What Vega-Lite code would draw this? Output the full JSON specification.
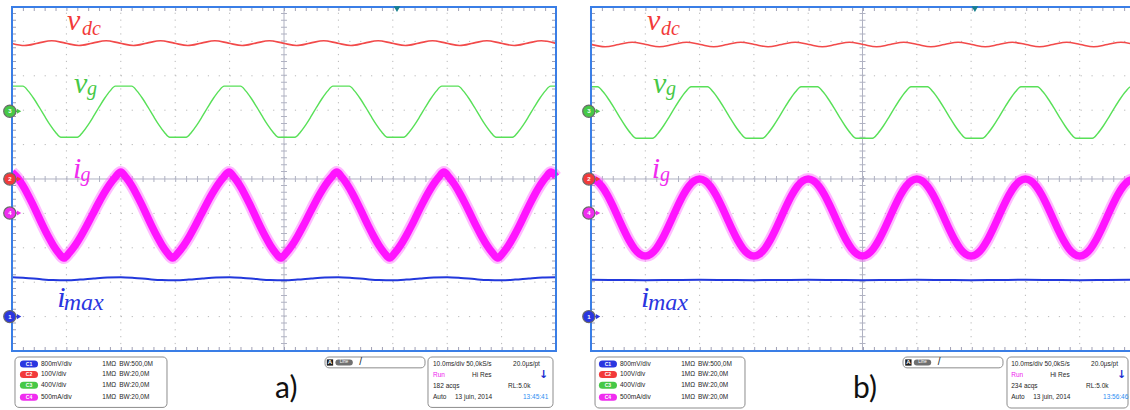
{
"$schema": "https://vega.github.io/schema/vega-lite/v6.json",
"padding": 0,
"background": "white",
"bounds": "flush",
"spacing": 0,
"config": {"view": {"stroke": null}, "axis": {"disable": true}},
"datasets": {
"one": [{"k": 1}],
"gx": [{"t":1},{"t":2},{"t":3},{"t":4},{"t":6},{"t":7},{"t":8},{"t":9}],
"gy": [{"v":-4},{"v":-3},{"v":-2},{"v":-1},{"v":1},{"v":2},{"v":3},{"v":4}],
"a_vdc": [{"t":0,"v":3.941},
{"t":0.23,"v":3.88},{"t":0.48,"v":3.95},{"t":0.73,"v":4.02},{"t":0.98,"v":3.95},
{"t":1.23,"v":3.88},{"t":1.48,"v":3.95},{"t":1.73,"v":4.02},{"t":1.98,"v":3.95},
{"t":2.23,"v":3.88},{"t":2.48,"v":3.95},{"t":2.73,"v":4.02},{"t":2.98,"v":3.95},
{"t":3.23,"v":3.88},{"t":3.48,"v":3.95},{"t":3.73,"v":4.02},{"t":3.98,"v":3.95},
{"t":4.23,"v":3.88},{"t":4.48,"v":3.95},{"t":4.73,"v":4.02},{"t":4.98,"v":3.95},
{"t":5.23,"v":3.88},{"t":5.48,"v":3.95},{"t":5.73,"v":4.02},{"t":5.98,"v":3.95},
{"t":6.23,"v":3.88},{"t":6.48,"v":3.95},{"t":6.73,"v":4.02},{"t":6.98,"v":3.95},
{"t":7.23,"v":3.88},{"t":7.48,"v":3.95},{"t":7.73,"v":4.02},{"t":7.98,"v":3.95},
{"t":8.23,"v":3.88},{"t":8.48,"v":3.95},{"t":8.73,"v":4.02},{"t":8.98,"v":3.95},
{"t":9.23,"v":3.88},{"t":9.48,"v":3.95},{"t":9.73,"v":4.02},{"t":9.98,"v":3.95},
{"t":10,"v":3.941}],
"b_vdc": [{"t":0,"v":3.914},
{"t":0.26,"v":3.845},{"t":0.51,"v":3.91},{"t":0.76,"v":3.975},{"t":1.01,"v":3.91},
{"t":1.26,"v":3.845},{"t":1.51,"v":3.91},{"t":1.76,"v":3.975},{"t":2.01,"v":3.91},
{"t":2.26,"v":3.845},{"t":2.51,"v":3.91},{"t":2.76,"v":3.975},{"t":3.01,"v":3.91},
{"t":3.26,"v":3.845},{"t":3.51,"v":3.91},{"t":3.76,"v":3.975},{"t":4.01,"v":3.91},
{"t":4.26,"v":3.845},{"t":4.51,"v":3.91},{"t":4.76,"v":3.975},{"t":5.01,"v":3.91},
{"t":5.26,"v":3.845},{"t":5.51,"v":3.91},{"t":5.76,"v":3.975},{"t":6.01,"v":3.91},
{"t":6.26,"v":3.845},{"t":6.51,"v":3.91},{"t":6.76,"v":3.975},{"t":7.01,"v":3.91},
{"t":7.26,"v":3.845},{"t":7.51,"v":3.91},{"t":7.76,"v":3.975},{"t":8.01,"v":3.91},
{"t":8.26,"v":3.845},{"t":8.51,"v":3.91},{"t":8.76,"v":3.975},{"t":9.01,"v":3.91},
{"t":9.26,"v":3.845},{"t":9.51,"v":3.91},{"t":9.76,"v":3.975},{"t":10,"v":3.914}],
"a_vg": [{"t":0,"v":2.7},
{"t":0.2,"v":2.7},{"t":0.3,"v":2.554},{"t":0.4,"v":2.34},{"t":0.5,"v":2.089},{"t":0.6,"v":1.825},{"t":0.7,"v":1.574},{"t":0.8,"v":1.36},{"t":0.9,"v":1.212},{"t":1.2,"v":1.212},{"t":1.3,"v":1.36},{"t":1.4,"v":1.574},{"t":1.5,"v":1.825},{"t":1.6,"v":2.089},{"t":1.7,"v":2.34},{"t":1.8,"v":2.554},{"t":1.9,"v":2.7},
{"t":2.2,"v":2.7},{"t":2.3,"v":2.554},{"t":2.4,"v":2.34},{"t":2.5,"v":2.089},{"t":2.6,"v":1.825},{"t":2.7,"v":1.574},{"t":2.8,"v":1.36},{"t":2.9,"v":1.212},{"t":3.2,"v":1.212},{"t":3.3,"v":1.36},{"t":3.4,"v":1.574},{"t":3.5,"v":1.825},{"t":3.6,"v":2.089},{"t":3.7,"v":2.34},{"t":3.8,"v":2.554},{"t":3.9,"v":2.7},
{"t":4.2,"v":2.7},{"t":4.3,"v":2.554},{"t":4.4,"v":2.34},{"t":4.5,"v":2.089},{"t":4.6,"v":1.825},{"t":4.7,"v":1.574},{"t":4.8,"v":1.36},{"t":4.9,"v":1.212},{"t":5.2,"v":1.212},{"t":5.3,"v":1.36},{"t":5.4,"v":1.574},{"t":5.5,"v":1.825},{"t":5.6,"v":2.089},{"t":5.7,"v":2.34},{"t":5.8,"v":2.554},{"t":5.9,"v":2.7},
{"t":6.2,"v":2.7},{"t":6.3,"v":2.554},{"t":6.4,"v":2.34},{"t":6.5,"v":2.089},{"t":6.6,"v":1.825},{"t":6.7,"v":1.574},{"t":6.8,"v":1.36},{"t":6.9,"v":1.212},{"t":7.2,"v":1.212},{"t":7.3,"v":1.36},{"t":7.4,"v":1.574},{"t":7.5,"v":1.825},{"t":7.6,"v":2.089},{"t":7.7,"v":2.34},{"t":7.8,"v":2.554},{"t":7.9,"v":2.7},
{"t":8.2,"v":2.7},{"t":8.3,"v":2.554},{"t":8.4,"v":2.34},{"t":8.5,"v":2.089},{"t":8.6,"v":1.825},{"t":8.7,"v":1.574},{"t":8.8,"v":1.36},{"t":8.9,"v":1.212},{"t":9.2,"v":1.212},{"t":9.3,"v":1.36},{"t":9.4,"v":1.574},{"t":9.5,"v":1.825},{"t":9.6,"v":2.089},{"t":9.7,"v":2.34},{"t":9.8,"v":2.554},{"t":9.9,"v":2.7},
{"t":10,"v":2.7}],
"b_vg": [{"t":0,"v":2.683},{"t":0.122,"v":2.683},{"t":0.223,"v":2.534},{"t":0.324,"v":2.318},{"t":0.426,"v":2.066},{"t":0.527,"v":1.8},{"t":0.628,"v":1.548},{"t":0.729,"v":1.332},{"t":0.831,"v":1.183},{"t":1.134,"v":1.183},{"t":1.236,"v":1.332},{"t":1.337,"v":1.548},{"t":1.438,"v":1.8},{"t":1.539,"v":2.066},{"t":1.641,"v":2.318},{"t":1.742,"v":2.534},{"t":1.843,"v":2.683},
{"t":2.147,"v":2.683},{"t":2.248,"v":2.534},{"t":2.349,"v":2.318},{"t":2.451,"v":2.066},{"t":2.552,"v":1.8},{"t":2.653,"v":1.548},{"t":2.754,"v":1.332},{"t":2.856,"v":1.183},{"t":3.159,"v":1.183},{"t":3.261,"v":1.332},{"t":3.362,"v":1.548},{"t":3.463,"v":1.8},{"t":3.564,"v":2.066},{"t":3.666,"v":2.318},{"t":3.767,"v":2.534},{"t":3.868,"v":2.683},
{"t":4.172,"v":2.683},{"t":4.273,"v":2.534},{"t":4.374,"v":2.318},{"t":4.476,"v":2.066},{"t":4.577,"v":1.8},{"t":4.678,"v":1.548},{"t":4.779,"v":1.332},{"t":4.881,"v":1.183},{"t":5.184,"v":1.183},{"t":5.286,"v":1.332},{"t":5.387,"v":1.548},{"t":5.488,"v":1.8},{"t":5.589,"v":2.066},{"t":5.691,"v":2.318},{"t":5.792,"v":2.534},{"t":5.893,"v":2.683},
{"t":6.197,"v":2.683},{"t":6.298,"v":2.534},{"t":6.399,"v":2.318},{"t":6.501,"v":2.066},{"t":6.602,"v":1.8},{"t":6.703,"v":1.548},{"t":6.804,"v":1.332},{"t":6.906,"v":1.183},{"t":7.209,"v":1.183},{"t":7.311,"v":1.332},{"t":7.412,"v":1.548},{"t":7.513,"v":1.8},{"t":7.614,"v":2.066},{"t":7.716,"v":2.318},{"t":7.817,"v":2.534},{"t":7.918,"v":2.683},
{"t":8.222,"v":2.683},{"t":8.323,"v":2.534},{"t":8.424,"v":2.318},{"t":8.526,"v":2.066},{"t":8.627,"v":1.8},{"t":8.728,"v":1.548},{"t":8.829,"v":1.332},{"t":8.931,"v":1.183},{"t":9.234,"v":1.183},{"t":9.336,"v":1.332},{"t":9.437,"v":1.548},{"t":9.538,"v":1.8},{"t":9.639,"v":2.066},{"t":9.741,"v":2.318},{"t":9.842,"v":2.534},{"t":9.943,"v":2.683},{"t":10,"v":2.683}],
"a_ig": [{"t":0,"v":0.2},{"t":0.095,"v":0.045},{"t":0.19,"v":-0.169},{"t":0.285,"v":-0.433},{"t":0.38,"v":-0.731},{"t":0.475,"v":-1.05},{"t":0.57,"v":-1.369},{"t":0.665,"v":-1.667},{"t":0.76,"v":-1.931},{"t":0.855,"v":-2.145},{"t":0.95,"v":-2.3},
{"t":1.055,"v":-2.145},{"t":1.16,"v":-1.931},{"t":1.265,"v":-1.667},{"t":1.37,"v":-1.369},{"t":1.475,"v":-1.05},{"t":1.58,"v":-0.731},{"t":1.685,"v":-0.433},{"t":1.79,"v":-0.169},{"t":1.895,"v":0.045},{"t":2.0,"v":0.2},
{"t":2.095,"v":0.045},{"t":2.19,"v":-0.169},{"t":2.285,"v":-0.433},{"t":2.38,"v":-0.731},{"t":2.475,"v":-1.05},{"t":2.57,"v":-1.369},{"t":2.665,"v":-1.667},{"t":2.76,"v":-1.931},{"t":2.855,"v":-2.145},{"t":2.95,"v":-2.3},
{"t":3.054,"v":-2.145},{"t":3.158,"v":-1.931},{"t":3.262,"v":-1.667},{"t":3.366,"v":-1.369},{"t":3.47,"v":-1.05},{"t":3.574,"v":-0.731},{"t":3.678,"v":-0.433},{"t":3.782,"v":-0.169},{"t":3.886,"v":0.045},{"t":3.99,"v":0.2},
{"t":4.085,"v":0.045},{"t":4.18,"v":-0.169},{"t":4.275,"v":-0.433},{"t":4.37,"v":-0.731},{"t":4.465,"v":-1.05},{"t":4.56,"v":-1.369},{"t":4.655,"v":-1.667},{"t":4.75,"v":-1.931},{"t":4.845,"v":-2.145},{"t":4.94,"v":-2.3},
{"t":5.043,"v":-2.145},{"t":5.146,"v":-1.931},{"t":5.249,"v":-1.667},{"t":5.352,"v":-1.369},{"t":5.455,"v":-1.05},{"t":5.558,"v":-0.731},{"t":5.661,"v":-0.433},{"t":5.764,"v":-0.169},{"t":5.867,"v":0.045},{"t":5.97,"v":0.2},
{"t":6.067,"v":0.045},{"t":6.164,"v":-0.169},{"t":6.261,"v":-0.433},{"t":6.358,"v":-0.731},{"t":6.455,"v":-1.05},{"t":6.552,"v":-1.369},{"t":6.649,"v":-1.667},{"t":6.746,"v":-1.931},{"t":6.843,"v":-2.145},{"t":6.94,"v":-2.3},
{"t":7.04,"v":-2.145},{"t":7.14,"v":-1.931},{"t":7.24,"v":-1.667},{"t":7.34,"v":-1.369},{"t":7.44,"v":-1.05},{"t":7.54,"v":-0.731},{"t":7.64,"v":-0.433},{"t":7.74,"v":-0.169},{"t":7.84,"v":0.045},{"t":7.94,"v":0.2},
{"t":8.039,"v":0.045},{"t":8.138,"v":-0.169},{"t":8.237,"v":-0.433},{"t":8.336,"v":-0.731},{"t":8.435,"v":-1.05},{"t":8.534,"v":-1.369},{"t":8.633,"v":-1.667},{"t":8.732,"v":-1.931},{"t":8.831,"v":-2.145},{"t":8.93,"v":-2.3},
{"t":9.028,"v":-2.145},{"t":9.126,"v":-1.931},{"t":9.224,"v":-1.667},{"t":9.322,"v":-1.369},{"t":9.42,"v":-1.05},{"t":9.518,"v":-0.731},{"t":9.616,"v":-0.433},{"t":9.714,"v":-0.169},{"t":9.812,"v":0.045},{"t":9.91,"v":0.2},
{"t":10,"v":0.07}],
"b_ig": [{"t":0,"v":0},{"t":0.1,"v":-0.055},{"t":0.2,"v":-0.214},{"t":0.3,"v":-0.461},{"t":0.4,"v":-0.774},{"t":0.5,"v":-1.12},{"t":0.6,"v":-1.466},{"t":0.7,"v":-1.779},{"t":0.8,"v":-2.026},{"t":0.9,"v":-2.185},{"t":1.0,"v":-2.24},{"t":1.1,"v":-2.185},{"t":1.2,"v":-2.026},{"t":1.3,"v":-1.779},{"t":1.4,"v":-1.466},{"t":1.5,"v":-1.12},{"t":1.6,"v":-0.774},{"t":1.7,"v":-0.461},{"t":1.8,"v":-0.214},{"t":1.9,"v":-0.055},
{"t":2.0,"v":0},{"t":2.1,"v":-0.055},{"t":2.2,"v":-0.214},{"t":2.3,"v":-0.461},{"t":2.4,"v":-0.774},{"t":2.5,"v":-1.12},{"t":2.6,"v":-1.466},{"t":2.7,"v":-1.779},{"t":2.8,"v":-2.026},{"t":2.9,"v":-2.185},{"t":3.0,"v":-2.24},{"t":3.1,"v":-2.185},{"t":3.2,"v":-2.026},{"t":3.3,"v":-1.779},{"t":3.4,"v":-1.466},{"t":3.5,"v":-1.12},{"t":3.6,"v":-0.774},{"t":3.7,"v":-0.461},{"t":3.8,"v":-0.214},{"t":3.9,"v":-0.055},
{"t":4.0,"v":0},{"t":4.1,"v":-0.055},{"t":4.2,"v":-0.214},{"t":4.3,"v":-0.461},{"t":4.4,"v":-0.774},{"t":4.5,"v":-1.12},{"t":4.6,"v":-1.466},{"t":4.7,"v":-1.779},{"t":4.8,"v":-2.026},{"t":4.9,"v":-2.185},{"t":5.0,"v":-2.24},{"t":5.1,"v":-2.185},{"t":5.2,"v":-2.026},{"t":5.3,"v":-1.779},{"t":5.4,"v":-1.466},{"t":5.5,"v":-1.12},{"t":5.6,"v":-0.774},{"t":5.7,"v":-0.461},{"t":5.8,"v":-0.214},{"t":5.9,"v":-0.055},
{"t":6.0,"v":0},{"t":6.1,"v":-0.055},{"t":6.2,"v":-0.214},{"t":6.3,"v":-0.461},{"t":6.4,"v":-0.774},{"t":6.5,"v":-1.12},{"t":6.6,"v":-1.466},{"t":6.7,"v":-1.779},{"t":6.8,"v":-2.026},{"t":6.9,"v":-2.185},{"t":7.0,"v":-2.24},{"t":7.1,"v":-2.185},{"t":7.2,"v":-2.026},{"t":7.3,"v":-1.779},{"t":7.4,"v":-1.466},{"t":7.5,"v":-1.12},{"t":7.6,"v":-0.774},{"t":7.7,"v":-0.461},{"t":7.8,"v":-0.214},{"t":7.9,"v":-0.055},
{"t":8.0,"v":0},{"t":8.1,"v":-0.055},{"t":8.2,"v":-0.214},{"t":8.3,"v":-0.461},{"t":8.4,"v":-0.774},{"t":8.5,"v":-1.12},{"t":8.6,"v":-1.466},{"t":8.7,"v":-1.779},{"t":8.8,"v":-2.026},{"t":8.9,"v":-2.185},{"t":9.0,"v":-2.24},{"t":9.1,"v":-2.185},{"t":9.2,"v":-2.026},{"t":9.3,"v":-1.779},{"t":9.4,"v":-1.466},{"t":9.5,"v":-1.12},{"t":9.6,"v":-0.774},{"t":9.7,"v":-0.461},{"t":9.8,"v":-0.214},{"t":9.9,"v":-0.055},
{"t":10.0,"v":0}],
"a_imax": [{"t":0,"v":-2.856},{"t":0.25,"v":-2.876},{"t":0.5,"v":-2.91},{"t":0.75,"v":-2.938},{"t":1,"v":-2.944},{"t":1.25,"v":-2.924},{"t":1.5,"v":-2.89},{"t":1.75,"v":-2.862},
{"t":2,"v":-2.856},{"t":2.25,"v":-2.876},{"t":2.5,"v":-2.91},{"t":2.75,"v":-2.938},{"t":3,"v":-2.944},{"t":3.25,"v":-2.924},{"t":3.5,"v":-2.89},{"t":3.75,"v":-2.862},
{"t":4,"v":-2.856},{"t":4.25,"v":-2.876},{"t":4.5,"v":-2.91},{"t":4.75,"v":-2.938},{"t":5,"v":-2.944},{"t":5.25,"v":-2.924},{"t":5.5,"v":-2.89},{"t":5.75,"v":-2.862},
{"t":6,"v":-2.856},{"t":6.25,"v":-2.876},{"t":6.5,"v":-2.91},{"t":6.75,"v":-2.938},{"t":7,"v":-2.944},{"t":7.25,"v":-2.924},{"t":7.5,"v":-2.89},{"t":7.75,"v":-2.862},
{"t":8,"v":-2.856},{"t":8.25,"v":-2.876},{"t":8.5,"v":-2.91},{"t":8.75,"v":-2.938},{"t":9,"v":-2.944},{"t":9.25,"v":-2.924},{"t":9.5,"v":-2.89},{"t":9.75,"v":-2.862},
{"t":10,"v":-2.856}],
"b_imax": [{"t":0,"v":-2.93},{"t":0.5,"v":-2.935},{"t":1,"v":-2.94},{"t":1.5,"v":-2.935},{"t":2,"v":-2.93},{"t":2.5,"v":-2.935},{"t":3,"v":-2.94},{"t":3.5,"v":-2.935},{"t":4,"v":-2.93},{"t":4.5,"v":-2.935},{"t":5,"v":-2.94},{"t":5.5,"v":-2.935},{"t":6,"v":-2.93},{"t":6.5,"v":-2.935},{"t":7,"v":-2.94},{"t":7.5,"v":-2.935},{"t":8,"v":-2.93},{"t":8.5,"v":-2.935},{"t":9,"v":-2.94},{"t":9.5,"v":-2.935},{"t":10,"v":-2.93}],
"a_lab": [{"k":"main","ch":"vdc","s":"v","t":1.01,"v":4.331},{"k":"sub","ch":"vdc","s":"dc","t":1.287,"v":4.186},{"k":"main","ch":"vg","s":"v","t":1.14,"v":2.5},{"k":"sub","ch":"vg","s":"g","t":1.38,"v":2.45},{"k":"main","ch":"ig","s":"i","t":1.12,"v":0.03},{"k":"sub","ch":"ig","s":"g","t":1.26,"v":-0.06},{"k":"main","ch":"imax","s":"i","t":0.83,"v":-3.72},{"k":"subL","ch":"imax","s":"max","t":0.95,"v":-3.81}],
"b_lab": [{"k":"main","ch":"vdc","s":"v","t":1.03,"v":4.331},{"k":"sub","ch":"vdc","s":"dc","t":1.29,"v":4.186},{"k":"main","ch":"vg","s":"v","t":1.14,"v":2.5},{"k":"sub","ch":"vg","s":"g","t":1.38,"v":2.45},{"k":"main","ch":"ig","s":"i","t":1.12,"v":0.03},{"k":"sub","ch":"ig","s":"g","t":1.27,"v":-0.06},{"k":"main","ch":"imax","s":"i","t":0.92,"v":-3.72},{"k":"subL","ch":"imax","s":"max","t":1.05,"v":-3.81}],
"markers": [{"ch":"vg","s":"3","v":1.97},{"ch":"vdc","s":"2","v":0},{"ch":"ig","s":"4","v":-0.99},{"ch":"imax","s":"1","v":-4.0}],
"pills": [{"ch":"imax","s":"C1","v":-5.378},{"ch":"vdc","s":"C2","v":-5.683},{"ch":"vg","s":"C3","v":-5.997},{"ch":"ig","s":"C4","v":-6.346}],
"a_boxes": [{"t":0.055,"t2":2.849,"v":-5.174,"v2":-6.64},{"t":5.754,"t2":7.592,"v":-5.174,"v2":-5.49},{"t":7.647,"t2":9.945,"v":-5.174,"v2":-6.64}],
"b_boxes": [{"t":0.074,"t2":2.836,"v":-5.174,"v2":-6.657},{"t":5.746,"t2":7.587,"v":-5.174,"v2":-5.49},{"t":7.661,"t2":9.89,"v":-5.174,"v2":-6.657}],
"info": [{"t":0.533,"v":-5.378,"s":"800mV/div"},{"t":1.66,"v":-5.378,"s":"1MΩ"},{"t":1.97,"v":-5.378,"s":"BW:500,0M"},
{"t":0.533,"v":-5.683,"s":"100V/div"},{"t":1.66,"v":-5.683,"s":"1MΩ"},{"t":1.97,"v":-5.683,"s":"BW:20,0M"},
{"t":0.533,"v":-5.997,"s":"400V/div"},{"t":1.66,"v":-5.997,"s":"1MΩ"},{"t":1.97,"v":-5.997,"s":"BW:20,0M"},
{"t":0.533,"v":-6.346,"s":"500mA/div"},{"t":1.66,"v":-6.346,"s":"1MΩ"},{"t":1.97,"v":-6.346,"s":"BW:20,0M"},
{"t":7.739,"v":-5.378,"s":"10.0ms/div 50,0kS/s"},{"t":9.21,"v":-5.378,"s":"20.0µs/pt"},
{"t":8.456,"v":-5.69,"s":"Hi Res"},{"t":9.118,"v":-6.01,"s":"RL:5.0k"},
{"t":7.739,"v":-6.346,"s":"Auto"},{"t":8.143,"v":-6.346,"s":"13 juin, 2014"}],
"a_info": [{"k":"run","s":"Run","t":7.739,"v":-5.69},{"k":"dark","s":"182 acqs","t":7.739,"v":-6.01},{"k":"time","s":"13:45:41","t":9.393,"v":-6.346}],
"b_info": [{"k":"run","s":"Run","t":7.739,"v":-5.69},{"k":"dark","s":"234 acqs","t":7.739,"v":-6.01},{"k":"time","s":"13:56:46","t":9.43,"v":-6.346}]
},
"hconcat": [
{
"width": 570, "height": 410,
"layer": [
{"data":{"name":"gx"},"mark":{"type":"rule","color":"#b8b8b8","strokeWidth":1,"strokeDash":[1.2,5.68],"clip":true},"encoding":{"x":{"field":"t","type":"quantitative","scale":{"domain":[-0.22059,10.25735],"nice":false,"zero":false},"axis":null},"y":{"datum":-5,"scale":{"domain":[-6.71512,5.20349],"nice":false,"zero":false},"axis":null},"y2":{"datum":5}}},
{"data":{"name":"gy"},"mark":{"type":"rule","color":"#b8b8b8","strokeWidth":1,"strokeDash":[1.2,9.68],"clip":true},"encoding":{"y":{"field":"v","type":"quantitative"},"x":{"datum":0},"x2":{"datum":10}}},
{"data":{"name":"one"},"mark":{"type":"rule","color":"#b0b2c2","strokeWidth":1,"clip":true},"encoding":{"x":{"datum":5},"y":{"datum":-5},"y2":{"datum":5}}},
{"data":{"name":"one"},"mark":{"type":"rule","color":"#b0b2c2","strokeWidth":1,"clip":true},"encoding":{"y":{"datum":0},"x":{"datum":0},"x2":{"datum":10}}},
{"data":{"name":"one"},"mark":{"type":"rule","color":"#b0b2c2","strokeWidth":6,"strokeDash":[1,5.88],"clip":true},"encoding":{"x":{"datum":5},"y":{"datum":-5},"y2":{"datum":5}}},
{"data":{"name":"one"},"mark":{"type":"rule","color":"#b0b2c2","strokeWidth":6,"strokeDash":[1,9.88],"clip":true},"encoding":{"y":{"datum":0},"x":{"datum":0},"x2":{"datum":10}}},
{"data":{"name":"one"},"mark":{"type":"rule","color":"#a0a0b4","strokeWidth":4,"xOffset":2,"strokeDash":[1,5.88]},"encoding":{"x":{"datum":0},"y":{"datum":-5},"y2":{"datum":5}}},
{"data":{"name":"one"},"mark":{"type":"rule","color":"#a0a0b4","strokeWidth":4,"xOffset":-2,"strokeDash":[1,5.88]},"encoding":{"x":{"datum":10},"y":{"datum":-5},"y2":{"datum":5}}},
{"data":{"name":"one"},"mark":{"type":"rule","color":"#a0a0b4","strokeWidth":4,"yOffset":2,"strokeDash":[1,9.88]},"encoding":{"y":{"datum":5},"x":{"datum":0},"x2":{"datum":10}}},
{"data":{"name":"one"},"mark":{"type":"rule","color":"#a0a0b4","strokeWidth":4,"yOffset":-2,"strokeDash":[1,9.88]},"encoding":{"y":{"datum":-5},"x":{"datum":0},"x2":{"datum":10}}},
{"data":{"name":"a_vdc"},"mark":{"type":"line","color":"#f24a4a","strokeWidth":1.6,"interpolate":"monotone","clip":true},"encoding":{"x":{"field":"t","type":"quantitative"},"y":{"field":"v","type":"quantitative"}}},
{"data":{"name":"a_vg"},"mark":{"type":"line","color":"#58e058","strokeWidth":1.4,"interpolate":"monotone","clip":true},"encoding":{"x":{"field":"t","type":"quantitative"},"y":{"field":"v","type":"quantitative"}}},
{"data":{"name":"a_ig"},"mark":{"type":"line","color":"#ff66ff","strokeWidth":12,"opacity":0.45,"interpolate":"monotone","strokeJoin":"round","clip":true},"encoding":{"x":{"field":"t","type":"quantitative"},"y":{"field":"v","type":"quantitative"}}},
{"data":{"name":"a_ig"},"mark":{"type":"line","color":"#ff14ff","strokeWidth":7.5,"interpolate":"monotone","strokeJoin":"round","clip":true},"encoding":{"x":{"field":"t","type":"quantitative"},"y":{"field":"v","type":"quantitative"}}},
{"data":{"name":"a_imax"},"mark":{"type":"line","color":"#2238dc","strokeWidth":2,"interpolate":"monotone","clip":true},"encoding":{"x":{"field":"t","type":"quantitative"},"y":{"field":"v","type":"quantitative"}}},
{"data":{"name":"a_lab"},"transform":[{"filter":"datum.k === 'main'"}],"mark":{"type":"text","font":"Liberation Serif","fontStyle":"italic","fontSize":30,"align":"left","baseline":"alphabetic"},"encoding":{"x":{"field":"t","type":"quantitative"},"y":{"field":"v","type":"quantitative"},"text":{"field":"s"},"color":{"field":"ch","type":"nominal","scale":{"domain":["vdc","vg","ig","imax"],"range":["#f23a3a","#46c846","#f02cf0","#2a36e0"]},"legend":null}}},
{"data":{"name":"a_lab"},"transform":[{"filter":"datum.k === 'sub'"}],"mark":{"type":"text","font":"Liberation Serif","fontStyle":"italic","fontSize":20,"align":"left","baseline":"alphabetic"},"encoding":{"x":{"field":"t","type":"quantitative"},"y":{"field":"v","type":"quantitative"},"text":{"field":"s"},"color":{"field":"ch","type":"nominal","legend":null}}},
{"data":{"name":"a_lab"},"transform":[{"filter":"datum.k === 'subL'"}],"mark":{"type":"text","font":"Liberation Serif","fontStyle":"italic","fontSize":24,"align":"left","baseline":"alphabetic"},"encoding":{"x":{"field":"t","type":"quantitative"},"y":{"field":"v","type":"quantitative"},"text":{"field":"s"},"color":{"field":"ch","type":"nominal","legend":null}}},
{"data":{"name":"one"},"mark":{"type":"rect","fill":"transparent","stroke":"#3a7ee6","strokeWidth":2,"clip":true},"encoding":{"x":{"datum":0},"x2":{"datum":10},"y":{"datum":-5},"y2":{"datum":5}}},
{"data":{"name":"one"},"mark":{"type":"point","shape":"triangle-down","filled":true,"size":45,"color":"#16808e","opacity":1},"encoding":{"x":{"datum":7.077},"y":{"datum":4.94}}},
{"data":{"name":"markers"},"mark":{"type":"rule","strokeWidth":1.5},"encoding":{"x":{"datum":-0.04},"x2":{"datum":0.12},"y":{"field":"v","type":"quantitative"},"color":{"field":"ch","type":"nominal","legend":null}}},
{"data":{"name":"markers"},"mark":{"type":"point","shape":"triangle-right","filled":true,"size":26,"opacity":1},"encoding":{"x":{"datum":0.13},"y":{"field":"v","type":"quantitative"},"color":{"field":"ch","type":"nominal","legend":null}}},
{"data":{"name":"markers"},"mark":{"type":"point","shape":"circle","filled":true,"size":150,"opacity":1,"stroke":"#6a6a6a","strokeWidth":1.2},"encoding":{"x":{"datum":-0.04},"y":{"field":"v","type":"quantitative"},"color":{"field":"ch","type":"nominal","legend":null}}},
{"data":{"name":"markers"},"mark":{"type":"text","fontSize":6,"fontWeight":"bold","color":"white","font":"Liberation Sans"},"encoding":{"x":{"datum":-0.04},"y":{"field":"v","type":"quantitative"},"text":{"field":"s"}}},
{"data":{"name":"a_boxes"},"mark":{"type":"rect","fill":"white","stroke":"#8c8c8c","strokeWidth":1,"cornerRadius":4,"clip":true},"encoding":{"x":{"field":"t","type":"quantitative"},"x2":{"field":"t2"},"y":{"field":"v","type":"quantitative"},"y2":{"field":"v2"}}},
{"data":{"name":"pills"},"mark":{"type":"rule","strokeWidth":7,"strokeCap":"round"},"encoding":{"x":{"datum":0.21},"x2":{"datum":0.414},"y":{"field":"v","type":"quantitative"},"color":{"field":"ch","type":"nominal","legend":null}}},
{"data":{"name":"pills"},"mark":{"type":"text","fontSize":5,"fontWeight":"bold","color":"white","font":"Liberation Sans"},"encoding":{"x":{"datum":0.312},"y":{"field":"v","type":"quantitative"},"text":{"field":"s"}}},
{"data":{"name":"one"},"mark":{"type":"point","shape":"square","filled":true,"size":40,"color":"#202020","opacity":1},"encoding":{"x":{"datum":5.845},"y":{"datum":-5.334}}},
{"data":{"name":"one"},"mark":{"type":"text","text":"A","fontSize":6,"fontWeight":"bold","color":"white","font":"Liberation Sans"},"encoding":{"x":{"datum":5.845},"y":{"datum":-5.334}}},
{"data":{"name":"one"},"mark":{"type":"rule","strokeWidth":6,"strokeCap":"round","color":"#707070"},"encoding":{"x":{"datum":6.0},"x2":{"datum":6.21},"y":{"datum":-5.334}}},
{"data":{"name":"one"},"mark":{"type":"text","text":"Line","fontSize":4.5,"color":"white","font":"Liberation Sans"},"encoding":{"x":{"datum":6.105},"y":{"datum":-5.334}}},
{"data":{"name":"one"},"mark":{"type":"text","text":"/","fontSize":10,"color":"#222222","font":"Liberation Sans"},"encoding":{"x":{"datum":6.41},"y":{"datum":-5.334}}},
{"data":{"name":"info"},"mark":{"type":"text","font":"Liberation Sans","fontSize":6.5,"color":"#262626","align":"left","baseline":"middle"},"encoding":{"x":{"field":"t","type":"quantitative"},"y":{"field":"v","type":"quantitative"},"text":{"field":"s"}}},
{"data":{"name":"a_info"},"transform":[{"filter":"datum.k === 'dark'"}],"mark":{"type":"text","font":"Liberation Sans","fontSize":6.5,"color":"#262626","align":"left","baseline":"middle"},"encoding":{"x":{"field":"t","type":"quantitative"},"y":{"field":"v","type":"quantitative"},"text":{"field":"s"}}},
{"data":{"name":"a_info"},"transform":[{"filter":"datum.k === 'run'"}],"mark":{"type":"text","font":"Liberation Sans","fontSize":6.5,"color":"#ee22ee","align":"left","baseline":"middle"},"encoding":{"x":{"field":"t","type":"quantitative"},"y":{"field":"v","type":"quantitative"},"text":{"field":"s"}}},
{"data":{"name":"a_info"},"transform":[{"filter":"datum.k === 'time'"}],"mark":{"type":"text","font":"Liberation Sans","fontSize":6.5,"color":"#2b8ef2","align":"left","baseline":"middle"},"encoding":{"x":{"field":"t","type":"quantitative"},"y":{"field":"v","type":"quantitative"},"text":{"field":"s"}}},
{"data":{"name":"one"},"mark":{"type":"text","text":"↓","font":"DejaVu Sans","fontSize":11,"fontWeight":"bold","color":"#1c2fd0"},"encoding":{"x":{"datum":9.77},"y":{"datum":-5.69}}},
{"data":{"name":"one"},"mark":{"type":"text","text":"a)","font":"Lato","fontSize":30,"color":"#111111","align":"left","baseline":"alphabetic"},"encoding":{"x":{"datum":4.835},"y":{"datum":-6.37}}}
]
},
{
"width": 560, "height": 410,
"layer": [
{"data":{"name":"gx"},"mark":{"type":"rule","color":"#b8b8b8","strokeWidth":1,"strokeDash":[1.2,5.68],"clip":true},"encoding":{"x":{"field":"t","type":"quantitative","scale":{"domain":[-0.38674,9.92634],"nice":false,"zero":false},"axis":null},"y":{"datum":-5,"scale":{"domain":[-6.71512,5.20349],"nice":false,"zero":false},"axis":null},"y2":{"datum":5}}},
{"data":{"name":"gy"},"mark":{"type":"rule","color":"#b8b8b8","strokeWidth":1,"strokeDash":[1.2,9.68],"clip":true},"encoding":{"y":{"field":"v","type":"quantitative"},"x":{"datum":0},"x2":{"datum":10}}},
{"data":{"name":"one"},"mark":{"type":"rule","color":"#b0b2c2","strokeWidth":1,"clip":true},"encoding":{"x":{"datum":5},"y":{"datum":-5},"y2":{"datum":5}}},
{"data":{"name":"one"},"mark":{"type":"rule","color":"#b0b2c2","strokeWidth":1,"clip":true},"encoding":{"y":{"datum":0},"x":{"datum":0},"x2":{"datum":10}}},
{"data":{"name":"one"},"mark":{"type":"rule","color":"#b0b2c2","strokeWidth":6,"strokeDash":[1,5.88],"clip":true},"encoding":{"x":{"datum":5},"y":{"datum":-5},"y2":{"datum":5}}},
{"data":{"name":"one"},"mark":{"type":"rule","color":"#b0b2c2","strokeWidth":6,"strokeDash":[1,9.88],"clip":true},"encoding":{"y":{"datum":0},"x":{"datum":0},"x2":{"datum":10}}},
{"data":{"name":"one"},"mark":{"type":"rule","color":"#a0a0b4","strokeWidth":4,"xOffset":2,"strokeDash":[1,5.88],"clip":true},"encoding":{"x":{"datum":0},"y":{"datum":-5},"y2":{"datum":5}}},
{"data":{"name":"one"},"mark":{"type":"rule","color":"#a0a0b4","strokeWidth":4,"yOffset":2,"strokeDash":[1,9.88],"clip":true},"encoding":{"y":{"datum":5},"x":{"datum":0},"x2":{"datum":10}}},
{"data":{"name":"one"},"mark":{"type":"rule","color":"#a0a0b4","strokeWidth":4,"yOffset":-2,"strokeDash":[1,9.88],"clip":true},"encoding":{"y":{"datum":-5},"x":{"datum":0},"x2":{"datum":10}}},
{"data":{"name":"b_vdc"},"mark":{"type":"line","color":"#f24a4a","strokeWidth":1.6,"interpolate":"monotone","clip":true},"encoding":{"x":{"field":"t","type":"quantitative"},"y":{"field":"v","type":"quantitative"}}},
{"data":{"name":"b_vg"},"mark":{"type":"line","color":"#58e058","strokeWidth":1.4,"interpolate":"monotone","clip":true},"encoding":{"x":{"field":"t","type":"quantitative"},"y":{"field":"v","type":"quantitative"}}},
{"data":{"name":"b_ig"},"mark":{"type":"line","color":"#ff66ff","strokeWidth":12,"opacity":0.45,"interpolate":"monotone","strokeJoin":"round","clip":true},"encoding":{"x":{"field":"t","type":"quantitative"},"y":{"field":"v","type":"quantitative"}}},
{"data":{"name":"b_ig"},"mark":{"type":"line","color":"#ff14ff","strokeWidth":7.5,"interpolate":"monotone","strokeJoin":"round","clip":true},"encoding":{"x":{"field":"t","type":"quantitative"},"y":{"field":"v","type":"quantitative"}}},
{"data":{"name":"b_imax"},"mark":{"type":"line","color":"#2238dc","strokeWidth":2,"interpolate":"monotone","clip":true},"encoding":{"x":{"field":"t","type":"quantitative"},"y":{"field":"v","type":"quantitative"}}},
{"data":{"name":"b_lab"},"transform":[{"filter":"datum.k === 'main'"}],"mark":{"type":"text","font":"Liberation Serif","fontStyle":"italic","fontSize":30,"align":"left","baseline":"alphabetic"},"encoding":{"x":{"field":"t","type":"quantitative"},"y":{"field":"v","type":"quantitative"},"text":{"field":"s"},"color":{"field":"ch","type":"nominal","scale":{"domain":["vdc","vg","ig","imax"],"range":["#f23a3a","#46c846","#f02cf0","#2a36e0"]},"legend":null}}},
{"data":{"name":"b_lab"},"transform":[{"filter":"datum.k === 'sub'"}],"mark":{"type":"text","font":"Liberation Serif","fontStyle":"italic","fontSize":20,"align":"left","baseline":"alphabetic"},"encoding":{"x":{"field":"t","type":"quantitative"},"y":{"field":"v","type":"quantitative"},"text":{"field":"s"},"color":{"field":"ch","type":"nominal","legend":null}}},
{"data":{"name":"b_lab"},"transform":[{"filter":"datum.k === 'subL'"}],"mark":{"type":"text","font":"Liberation Serif","fontStyle":"italic","fontSize":24,"align":"left","baseline":"alphabetic"},"encoding":{"x":{"field":"t","type":"quantitative"},"y":{"field":"v","type":"quantitative"},"text":{"field":"s"},"color":{"field":"ch","type":"nominal","legend":null}}},
{"data":{"name":"one"},"mark":{"type":"rect","fill":"transparent","stroke":"#3a7ee6","strokeWidth":2,"clip":true},"encoding":{"x":{"datum":0},"x2":{"datum":10},"y":{"datum":-5},"y2":{"datum":5}}},
{"data":{"name":"one"},"mark":{"type":"point","shape":"triangle-down","filled":true,"size":45,"color":"#16808e","opacity":1},"encoding":{"x":{"datum":7.07},"y":{"datum":4.94}}},
{"data":{"name":"markers"},"mark":{"type":"rule","strokeWidth":1.5},"encoding":{"x":{"datum":-0.04},"x2":{"datum":0.12},"y":{"field":"v","type":"quantitative"},"color":{"field":"ch","type":"nominal","legend":null}}},
{"data":{"name":"markers"},"mark":{"type":"point","shape":"triangle-right","filled":true,"size":26,"opacity":1},"encoding":{"x":{"datum":0.13},"y":{"field":"v","type":"quantitative"},"color":{"field":"ch","type":"nominal","legend":null}}},
{"data":{"name":"markers"},"mark":{"type":"point","shape":"circle","filled":true,"size":150,"opacity":1,"stroke":"#6a6a6a","strokeWidth":1.2},"encoding":{"x":{"datum":-0.04},"y":{"field":"v","type":"quantitative"},"color":{"field":"ch","type":"nominal","legend":null}}},
{"data":{"name":"markers"},"mark":{"type":"text","fontSize":6,"fontWeight":"bold","color":"white","font":"Liberation Sans"},"encoding":{"x":{"datum":-0.04},"y":{"field":"v","type":"quantitative"},"text":{"field":"s"}}},
{"data":{"name":"b_boxes"},"mark":{"type":"rect","fill":"white","stroke":"#8c8c8c","strokeWidth":1,"cornerRadius":4,"clip":true},"encoding":{"x":{"field":"t","type":"quantitative"},"x2":{"field":"t2"},"y":{"field":"v","type":"quantitative"},"y2":{"field":"v2"}}},
{"data":{"name":"pills"},"mark":{"type":"rule","strokeWidth":7,"strokeCap":"round"},"encoding":{"x":{"datum":0.21},"x2":{"datum":0.414},"y":{"field":"v","type":"quantitative"},"color":{"field":"ch","type":"nominal","legend":null}}},
{"data":{"name":"pills"},"mark":{"type":"text","fontSize":5,"fontWeight":"bold","color":"white","font":"Liberation Sans"},"encoding":{"x":{"datum":0.312},"y":{"field":"v","type":"quantitative"},"text":{"field":"s"}}},
{"data":{"name":"one"},"mark":{"type":"point","shape":"square","filled":true,"size":40,"color":"#202020","opacity":1},"encoding":{"x":{"datum":5.845},"y":{"datum":-5.334}}},
{"data":{"name":"one"},"mark":{"type":"text","text":"A","fontSize":6,"fontWeight":"bold","color":"white","font":"Liberation Sans"},"encoding":{"x":{"datum":5.845},"y":{"datum":-5.334}}},
{"data":{"name":"one"},"mark":{"type":"rule","strokeWidth":6,"strokeCap":"round","color":"#707070"},"encoding":{"x":{"datum":6.0},"x2":{"datum":6.21},"y":{"datum":-5.334}}},
{"data":{"name":"one"},"mark":{"type":"text","text":"Line","fontSize":4.5,"color":"white","font":"Liberation Sans"},"encoding":{"x":{"datum":6.105},"y":{"datum":-5.334}}},
{"data":{"name":"one"},"mark":{"type":"text","text":"/","fontSize":10,"color":"#222222","font":"Liberation Sans"},"encoding":{"x":{"datum":6.41},"y":{"datum":-5.334}}},
{"data":{"name":"info"},"mark":{"type":"text","font":"Liberation Sans","fontSize":6.5,"color":"#262626","align":"left","baseline":"middle"},"encoding":{"x":{"field":"t","type":"quantitative"},"y":{"field":"v","type":"quantitative"},"text":{"field":"s"}}},
{"data":{"name":"b_info"},"transform":[{"filter":"datum.k === 'dark'"}],"mark":{"type":"text","font":"Liberation Sans","fontSize":6.5,"color":"#262626","align":"left","baseline":"middle"},"encoding":{"x":{"field":"t","type":"quantitative"},"y":{"field":"v","type":"quantitative"},"text":{"field":"s"}}},
{"data":{"name":"b_info"},"transform":[{"filter":"datum.k === 'run'"}],"mark":{"type":"text","font":"Liberation Sans","fontSize":6.5,"color":"#ee22ee","align":"left","baseline":"middle"},"encoding":{"x":{"field":"t","type":"quantitative"},"y":{"field":"v","type":"quantitative"},"text":{"field":"s"}}},
{"data":{"name":"b_info"},"transform":[{"filter":"datum.k === 'time'"}],"mark":{"type":"text","font":"Liberation Sans","fontSize":6.5,"color":"#2b8ef2","align":"left","baseline":"middle"},"encoding":{"x":{"field":"t","type":"quantitative"},"y":{"field":"v","type":"quantitative"},"text":{"field":"s"}}},
{"data":{"name":"one"},"mark":{"type":"text","text":"↓","font":"DejaVu Sans","fontSize":11,"fontWeight":"bold","color":"#1c2fd0"},"encoding":{"x":{"datum":9.77},"y":{"datum":-5.69}}},
{"data":{"name":"one"},"mark":{"type":"text","text":"b)","font":"Lato","fontSize":30,"color":"#111111","align":"left","baseline":"alphabetic"},"encoding":{"x":{"datum":4.825},"y":{"datum":-6.37}}}
]
}
]
}
